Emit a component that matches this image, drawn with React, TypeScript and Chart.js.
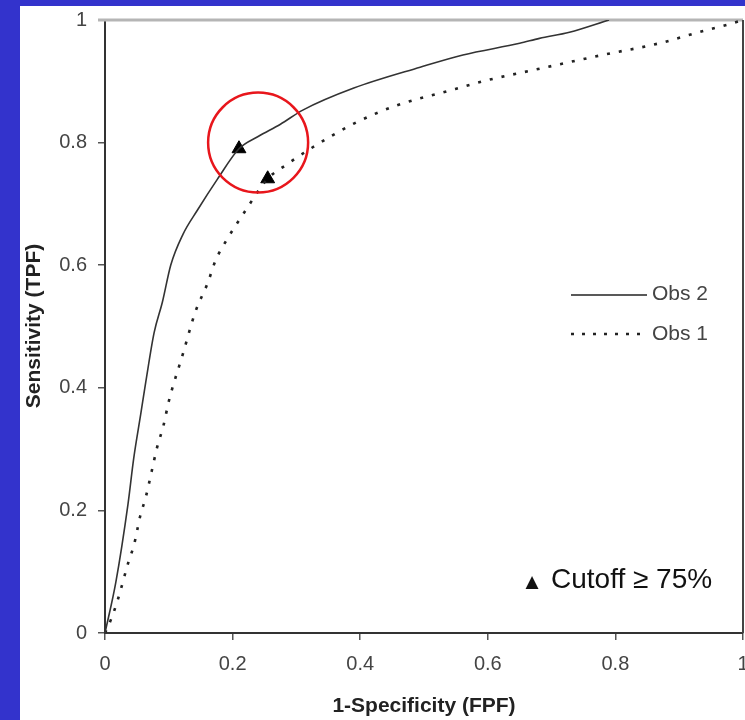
import React, { useEffect, useRef } from "react";
import { Chart, registerables } from "chart.js";

Chart.register(...registerables);

// ---- data ----
const obs2X = [0, 0.017, 0.036, 0.045, 0.056, 0.064, 0.077, 0.09, 0.103, 0.122, 0.145, 0.176, 0.21, 0.24, 0.275, 0.31, 0.39, 0.494, 0.561, 0.65, 0.681, 0.728, 0.79];
const obs2Y = [0, 0.083, 0.21, 0.285, 0.357, 0.41, 0.49, 0.54, 0.6, 0.65, 0.69, 0.74, 0.79, 0.81, 0.83, 0.853, 0.889, 0.923, 0.943, 0.962, 0.97, 0.98, 1.0];

const obs1X = [0, 0.009, 0.02, 0.036, 0.046, 0.055, 0.064, 0.073, 0.081, 0.092, 0.1, 0.122, 0.142, 0.161, 0.173, 0.19, 0.217, 0.255, 0.283, 0.325, 0.39, 0.458, 0.53, 0.6, 0.67, 0.78, 0.869, 0.927, 0.978, 1];
const obs1Y = [0, 0.021, 0.054, 0.113, 0.146, 0.19, 0.222, 0.263, 0.3, 0.34, 0.378, 0.455, 0.525, 0.571, 0.607, 0.64, 0.684, 0.741, 0.763, 0.792, 0.831, 0.861, 0.882, 0.902, 0.918, 0.943, 0.962, 0.979, 0.993, 1];

const cutoffX = [0.21, 0.255];
const cutoffY = [0.79, 0.741];

const highlightX = [0.24];
const highlightY = [0.8];

const tickValues = [0, 0.2, 0.4, 0.6, 0.8, 1];
const tickLabels = ["0", "0.2", "0.4", "0.6", "0.8", "1"];

const seriesNames = ["Obs 2", "Obs 1"];
const xTitle = "1-Specificity (FPF)";
const yTitle = "Sensitivity (TPF)";
const noteText = "Cutoff \u2265 75%";
const noteMarker = "\u25B2";

// page -> canvas offset
const OFFX = 20;
const OFFY = 6;
const CW = 725;
const CH = 714;

const TICK_FAMILY = "'Liberation Sans', Arial, sans-serif";
const TICK_FONT = "20px " + TICK_FAMILY;

const zip = (xs: number[], ys: number[]) => xs.map((x, i) => ({ x, y: ys[i] }));

const overlayPlugin = {
  id: "overlay",
  beforeDatasetsDraw(chart: any) {
    const { ctx, chartArea: a } = chart;
    ctx.save();
    ctx.strokeStyle = "#b5b5b5";
    ctx.lineWidth = 3;
    ctx.beginPath();
    ctx.moveTo(a.left - 7, a.top);
    ctx.lineTo(a.right, a.top);
    ctx.stroke();
    ctx.strokeStyle = "#444";
    ctx.lineWidth = 2;
    ctx.beginPath();
    ctx.moveTo(a.right, a.top);
    ctx.lineTo(a.right, a.bottom);
    ctx.stroke();
    ctx.restore();
  },
  afterDraw(chart: any) {
    const { ctx } = chart;
    ctx.save();
    // axis titles
    ctx.fillStyle = "#222";
    ctx.font = "bold 21px 'Liberation Sans', Arial, sans-serif";
    ctx.textAlign = "center";
    ctx.textBaseline = "middle";
    ctx.fillText(xTitle, 424 - OFFX, 706 - OFFY);
    ctx.save();
    ctx.translate(34 - OFFX, 326 - OFFY);
    ctx.rotate(-Math.PI / 2);
    ctx.fillText(yTitle, 0, 0);
    ctx.restore();

    // legend
    ctx.strokeStyle = "#222";
    ctx.lineWidth = 1.5;
    ctx.beginPath();
    ctx.moveTo(571 - OFFX, 295 - OFFY);
    ctx.lineTo(647 - OFFX, 295 - OFFY);
    ctx.stroke();
    ctx.setLineDash([3, 8]);
    ctx.lineWidth = 2.5;
    ctx.beginPath();
    ctx.moveTo(571 - OFFX, 334 - OFFY);
    ctx.lineTo(647 - OFFX, 334 - OFFY);
    ctx.stroke();
    ctx.setLineDash([]);
    ctx.fillStyle = "#444";
    ctx.font = "21px " + TICK_FAMILY;
    ctx.textAlign = "left";
    ctx.fillText(seriesNames[0], 652 - OFFX, 294 - OFFY);
    ctx.fillText(seriesNames[1], 652 - OFFX, 334 - OFFY);

    // note
    ctx.fillStyle = "#111";
    ctx.font = "17px 'DejaVu Sans', sans-serif";
    ctx.textAlign = "center";
    ctx.textBaseline = "alphabetic";
    ctx.fillText(noteMarker, 532 - OFFX, 587 - OFFY);
    ctx.font = "28px 'Liberation Sans', Arial, sans-serif";
    ctx.textAlign = "left";
    ctx.fillText(noteText, 551 - OFFX, 588 - OFFY);
    ctx.restore();
  },
};

export default function App() {
  const ref = useRef<HTMLCanvasElement>(null);
  useEffect(() => {
    if (!ref.current) return;
    const axisCommon = (isX: boolean) => ({
      type: "linear" as const,
      min: 0,
      max: 1,
      afterBuildTicks: (scale: any) => {
        scale.ticks = tickValues.map((v) => ({ value: v }));
      },
      afterFit: (scale: any) => {
        if (isX) scale.height = CH - (633 - OFFY);
        else scale.width = 105 - OFFX;
        scale.paddingLeft = 0;
        scale.paddingRight = 0;
        scale.paddingTop = 0;
        scale.paddingBottom = 0;
      },
      ticks: {
        color: "#444",
        font: { family: TICK_FAMILY, size: 20 },
        padding: isX ? 12 : 11,
        maxRotation: 0,
        autoSkip: false,
        callback: (v: any) => {
          const i = tickValues.indexOf(Number(v));
          return i >= 0 ? tickLabels[i] : "";
        },
      },
      grid: {
        drawOnChartArea: false,
        drawTicks: true,
        tickLength: 7,
        color: "#555",
        lineWidth: 1.5,
      },
      border: { display: true, color: "#333", width: 2 },
    });

    const chart = new Chart(ref.current, {
      type: "scatter",
      data: {
        datasets: [
          {
            label: "highlight",
            data: zip(highlightX, highlightY),
            pointRadius: 50,
            pointHoverRadius: 50,
            pointStyle: "circle",
            borderColor: "#e8161c",
            borderWidth: 2.5,
            backgroundColor: "rgba(0,0,0,0)",
            showLine: false,
            clip: false,
          },
          {
            label: seriesNames[0],
            data: zip(obs2X, obs2Y),
            showLine: true,
            borderColor: "#333",
            borderWidth: 1.6,
            pointRadius: 0,
            cubicInterpolationMode: "monotone",
            fill: false,
          },
          {
            label: seriesNames[1],
            data: zip(obs1X, obs1Y),
            showLine: true,
            borderColor: "#222",
            borderWidth: 2.6,
            borderDash: [3, 9],
            pointRadius: 0,
            cubicInterpolationMode: "monotone",
            fill: false,
          },
          {
            label: "cutoff",
            data: zip(cutoffX, cutoffY),
            pointStyle: "triangle",
            pointRadius: 8,
            backgroundColor: "#000",
            borderColor: "#000",
            borderWidth: 1,
            showLine: false,
          },
        ],
      },
      options: {
        animation: false,
        responsive: false,
        devicePixelRatio: 1,
        layout: {
          autoPadding: false,
          padding: { left: 0, top: 20 - OFFY, right: CW - (743 - OFFX), bottom: 0 },
        },
        plugins: { legend: { display: false }, tooltip: { enabled: false } },
        scales: {
          x: axisCommon(true) as any,
          y: axisCommon(false) as any,
        },
      },
      plugins: [overlayPlugin],
    });
    return () => chart.destroy();
  }, []);

  return (
    <div style={{ position: "fixed", left: 0, top: 0, width: 745, height: 720, background: "#3333cc" }}>
      <div style={{ position: "absolute", left: OFFX, top: OFFY, width: CW, height: CH, background: "#fff" }}>
        <canvas ref={ref} width={CW} height={CH} style={{ display: "block" }} />
      </div>
    </div>
  );
}
